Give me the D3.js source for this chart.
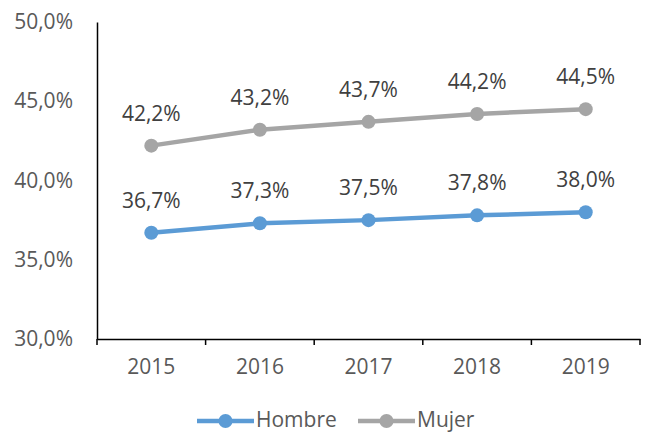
<!DOCTYPE html>
<html>
<head>
<meta charset="utf-8">
<script src="https://cdn.jsdelivr.net/npm/d3@7"></script>
<style>
  body { margin: 0; background: #fff; }
  svg text { font-family: "Open Sans", sans-serif; }
</style>
</head>
<body>
<svg class="chart" width="645" height="433"></svg>
<script>
let years = ["2015", "2016", "2017", "2018", "2019"]
let hombre = [36.7, 37.3, 37.5, 37.8, 38.0]
let mujer = [42.2, 43.2, 43.7, 44.2, 44.5]
let y_ticks = [30, 35, 40, 45, 50]

let series = [
    {name: "Hombre", values: hombre, color: "#5b9bd5"},
    {name: "Mujer", values: mujer, color: "#a5a5a5"}
]

let fmt = v => v.toFixed(1).replace(".", ",") + "%"

let svg = d3.select(".chart")

let x = d3.scaleBand()
    .domain(years)
    .range([97, 640])

let y = d3.scaleLinear()
    .domain([30, 50])
    .range([339, 22])

// y axis
let yAxis = svg.append("g")
    .attr("transform", "translate(97,0)")
    .call(d3.axisLeft(y).tickValues(y_ticks).tickSize(0).tickPadding(24).tickFormat(d => fmt(d)))
yAxis.select(".domain").attr("stroke", "#000").attr("stroke-width", 1.5)
yAxis.selectAll("text")
    .attr("fill", "#595959")
    .style("font-size", "21px")

// x axis, ticks sit on the band edges
let xAxis = svg.append("g")
    .attr("transform", "translate(0,339)")
    .call(d3.axisBottom(x).tickSize(0).tickPadding(20))
xAxis.select(".domain").attr("stroke", "#000").attr("stroke-width", 1.5)
xAxis.selectAll("text")
    .attr("fill", "#595959")
    .style("font-size", "21px")
let edges = years.map(d => x(d)).concat([x.range()[1]])
xAxis.selectAll("line.edge")
    .data(edges)
    .enter().append("line")
    .classed("edge", true)
    .attr("x1", d => d).attr("x2", d => d)
    .attr("y1", 0).attr("y2", 6)
    .attr("stroke", "#000")
    .attr("stroke-width", 1.5)

let cx = d => x(d) + x.bandwidth() / 2

let line = d3.line()
    .x((v, i) => cx(years[i]))
    .y(v => y(v))

series.forEach(s => {
    svg.append("path")
        .datum(s.values)
        .attr("d", line)
        .attr("fill", "none")
        .attr("stroke", s.color)
        .attr("stroke-width", 4.5)
        .attr("stroke-linejoin", "round")

    svg.selectAll("circle." + s.name)
        .data(s.values)
        .enter().append("circle")
        .attr("class", s.name)
        .attr("cx", (v, i) => cx(years[i]))
        .attr("cy", v => y(v))
        .attr("r", 7)
        .attr("fill", s.color)

    svg.selectAll("text." + s.name)
        .data(s.values)
        .enter().append("text")
        .attr("class", s.name)
        .attr("x", (v, i) => cx(years[i]))
        .attr("y", v => y(v) - 25)
        .attr("text-anchor", "middle")
        .attr("fill", "#404040")
        .style("font-size", "21px")
        .text(v => fmt(v))
})

// legend
let legend_x = [197, 358]
let legend = svg.selectAll("g.legend")
    .data(series)
    .enter().append("g")
    .classed("legend", true)
    .attr("transform", (d, i) => "translate(" + legend_x[i] + ",421)")
legend.append("line")
    .attr("x1", 0).attr("x2", 57)
    .attr("stroke", d => d.color)
    .attr("stroke-width", 4.5)
legend.append("circle")
    .attr("cx", 28.5)
    .attr("r", 7)
    .attr("fill", d => d.color)
legend.append("text")
    .attr("x", 59)
    .attr("y", 6)
    .attr("fill", "#595959")
    .style("font-size", "21px")
    .text(d => d.name)
</script>
</body>
</html>
